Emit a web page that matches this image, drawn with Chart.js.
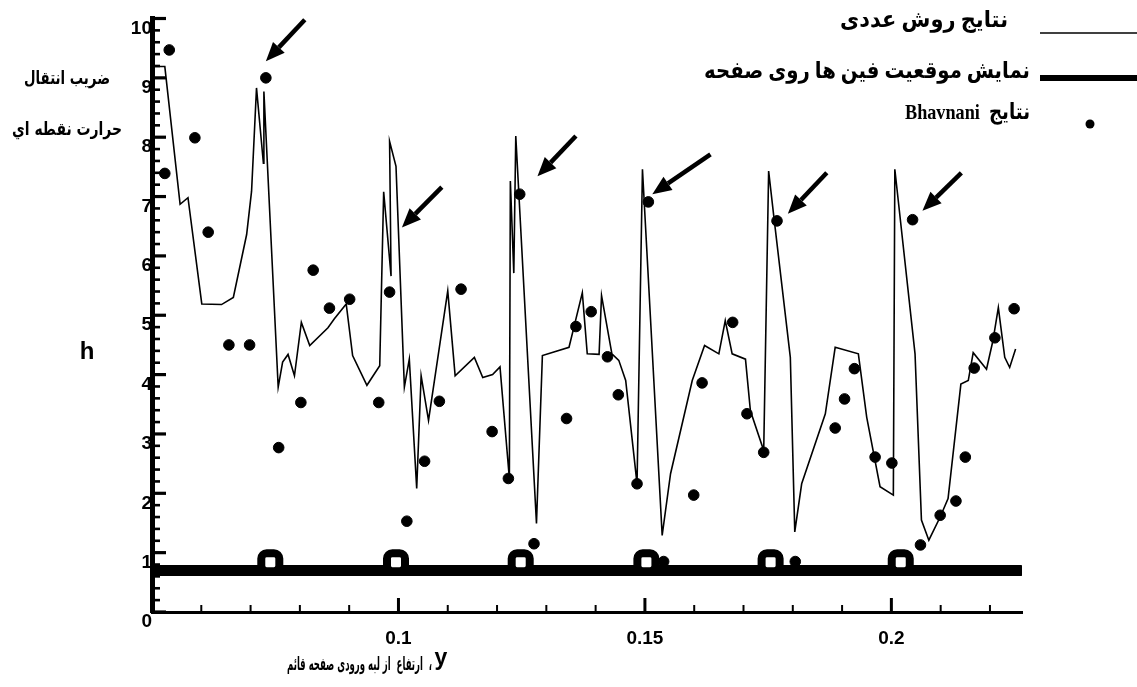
<!DOCTYPE html>
<html>
<head>
<meta charset="utf-8">
<script src="https://cdn.jsdelivr.net/npm/chart.js@4.4.1/dist/chart.umd.min.js"></script>
<style>
  html, body { margin: 0; padding: 0; background: #fff; }
  canvas { display: block; }
</style>
</head>
<body>
<canvas id="chart" width="1137" height="687"></canvas>
<script>
// numerical results (thin line)
const numX = [0.0503,0.0526,0.0557,0.0573,0.0601,0.0641,0.0665,0.0692,0.0702,0.0712,
  0.0726,0.0727,0.0756,0.0765,0.0776,0.0789,0.0803,0.0820,0.0857,0.0870,
  0.0894,0.0907,0.0936,0.0962,0.0970,0.0985,0.0982,0.0995,0.1012,0.1022,
  0.1037,0.1046,0.1061,0.1100,0.1115,0.1154,0.1171,0.1191,0.1206,0.1225,
  0.1227,0.1234,0.1238,0.1280,0.1292,0.1346,0.1356,0.1373,0.1383,0.1407,
  0.1412,0.1433,0.1447,0.1461,0.1484,0.1495,0.1535,0.1552,0.1596,0.1621,
  0.1650,0.1663,0.1677,0.1704,0.1714,0.1741,0.1751,0.1761,0.1795,0.1804,
  0.1818,0.1866,0.1886,0.1933,0.1950,0.1977,0.2004,0.2007,0.2048,0.2061,
  0.2076,0.2099,0.2115,0.2141,0.2156,0.2166,0.2193,0.2206,0.2217,0.2230,
  0.2240,0.2252];
const numH = [9.19,9.19,6.87,6.98,5.19,5.18,5.30,6.36,7.09,8.83,
  7.56,8.77,3.79,4.21,4.34,3.98,4.88,4.49,4.79,4.94,
  5.19,4.32,3.82,4.15,7.08,5.66,7.93,7.51,3.79,4.26,
  2.08,3.98,3.23,5.41,3.98,4.29,3.95,4.00,4.13,2.25,
  7.26,5.71,8.02,1.49,4.32,4.46,4.80,5.38,4.35,4.34,
  5.33,4.35,4.24,3.90,2.16,7.46,1.29,2.33,3.90,4.49,
  4.35,4.91,4.35,4.26,3.39,2.72,7.43,6.70,4.29,1.35,
  2.16,3.34,4.46,4.35,3.28,2.11,1.97,7.46,4.35,1.55,
  1.21,1.60,1.91,3.84,3.90,4.37,4.09,4.57,5.13,4.29,
  4.12,4.43];

// Bhavnani results (dots)
const bhavX = [0.0535,0.0526,0.0587,0.0614,0.0656,0.0698,0.0731,0.0757,0.0802,0.0827,
  0.0860,0.0901,0.0960,0.0982,0.1017,0.1053,0.1083,0.1127,0.1190,0.1223,
  0.1246,0.1275,0.1341,0.1360,0.1391,0.1424,0.1446,0.1484,0.1507,0.1538,
  0.1599,0.1616,0.1678,0.1707,0.1741,0.1768,0.1805,0.1886,0.1905,0.1925,
  0.1967,0.2001,0.2043,0.2059,0.2099,0.2131,0.2150,0.2168,0.2210,0.2249];
const bhavH = [9.47,7.39,7.99,6.40,4.50,4.50,9.00,2.77,3.53,5.76,
  5.12,5.27,3.53,5.39,1.53,2.54,3.55,5.44,3.04,2.25,
  7.04,1.15,3.26,4.81,5.06,4.30,3.66,2.16,6.91,0.85,
  1.97,3.86,4.88,3.34,2.69,6.59,0.85,3.10,3.59,4.10,
  2.61,2.51,6.61,1.13,1.63,1.87,2.61,4.11,4.62,5.11];

// fin positions on the plate
const finX = [0.0740,0.0995,0.1248,0.1503,0.1755,0.2019];
const finH = [0.84,0.84,0.84,0.84,0.84,0.84];
const plateX = [0.0500,0.2262];
const plateH = [0.70,0.70];

// arrows pointing at the peaks
const arrowTailX = [0.0810,0.1088,0.1360,0.1633,0.1869,0.2142];
const arrowTailH = [9.98,7.16,8.02,7.71,7.40,7.40];
const arrowHeadX = [0.0731,0.1007,0.1282,0.1515,0.1790,0.2063];
const arrowHeadH = [9.28,6.48,7.34,7.04,6.71,6.76];

const xTickValues = [0.1,0.15,0.2];
const yTickValues = [0,1,2,3,4,5,6,7,8,9,10];

const legendLabels = ["نتایج روش عددی", "نمایش موقعیت فین ها روی صفحه", "نتایج  Bhavnani"];
const yTitle = ["ضریب انتقال", "حرارت نقطه اي"];
const xTitle = "،  ارتفاع  از لبه ورودی صفحه قائم";

const pts = (xs, ys) => xs.map((v, i) => ({ x: v, y: ys[i] }));

function fitText(ctx, txt, xr, yc, w, font) {
  ctx.save();
  ctx.font = font;
  ctx.direction = "rtl";
  ctx.textAlign = "right";
  ctx.textBaseline = "middle";
  const m = ctx.measureText(txt).width;
  ctx.translate(xr, yc);
  ctx.scale(w / m, 1);
  ctx.fillText(txt, 0, 0);
  ctx.restore();
}

function arrow(ctx, x0, y0, x1, y1) {
  const ang = Math.atan2(y1 - y0, x1 - x0);
  const L = 19, W = 8;
  const bx = x1 - L * Math.cos(ang), by = y1 - L * Math.sin(ang);
  ctx.lineWidth = 4.5;
  ctx.beginPath(); ctx.moveTo(x0, y0); ctx.lineTo(bx, by); ctx.stroke();
  ctx.beginPath();
  ctx.moveTo(x1, y1);
  ctx.lineTo(bx + W * Math.sin(ang), by - W * Math.cos(ang));
  ctx.lineTo(bx - W * Math.sin(ang), by + W * Math.cos(ang));
  ctx.closePath(); ctx.fill();
}

const overlay = {
  id: "overlay",
  afterDraw(chart) {
    const { ctx, chartArea: a, scales: { x, y } } = chart;
    ctx.save();
    ctx.strokeStyle = "#000";
    ctx.fillStyle = "#000";

    // inward ticks on y
    for (let i = 0; i <= 50; i++) {
      const py = y.getPixelForValue(i * 0.2);
      const major = i % 5 === 0;
      ctx.lineWidth = major ? 3.2 : 2.6;
      ctx.beginPath(); ctx.moveTo(a.left, py); ctx.lineTo(a.left + (major ? 14 : 8), py); ctx.stroke();
    }
    // inward ticks on x
    for (let i = 6; i <= 22; i++) {
      const px = x.getPixelForValue(i / 100);
      const major = i === 10 || i === 15 || i === 20;
      ctx.lineWidth = major ? 3 : 2;
      ctx.beginPath(); ctx.moveTo(px, a.bottom); ctx.lineTo(px, a.bottom - (major ? 14 : 7)); ctx.stroke();
    }

    // arrows
    ctx.lineCap = "butt";
    arrowTailX.forEach((v, i) => {
      arrow(ctx, x.getPixelForValue(v), y.getPixelForValue(arrowTailH[i]),
        x.getPixelForValue(arrowHeadX[i]), y.getPixelForValue(arrowHeadH[i]));
    });

    // legend
    const fnt = 'bold 23px "Liberation Serif", "DejaVu Sans", serif';
    fitText(ctx, legendLabels[0], 1008, 21, 168, fnt);
    fitText(ctx, legendLabels[1], 1030, 72, 326, fnt);
    fitText(ctx, legendLabels[2], 1030, 113, 125, 'bold 22px "Liberation Serif", "DejaVu Sans", serif');
    ctx.lineWidth = 1.5;
    ctx.beginPath(); ctx.moveTo(1040, 33); ctx.lineTo(1137, 33); ctx.stroke();
    ctx.lineWidth = 6;
    ctx.beginPath(); ctx.moveTo(1040, 78); ctx.lineTo(1137, 78); ctx.stroke();
    ctx.beginPath(); ctx.arc(1090, 124, 4.5, 0, Math.PI * 2); ctx.fill();

    // axis titles
    const tf = 'bold 18px "DejaVu Sans", sans-serif';
    fitText(ctx, yTitle[0], 110, 79, 86, tf);
    fitText(ctx, yTitle[1], 122, 130, 110, tf);
    ctx.font = 'bold 24px "Liberation Sans", Arial, sans-serif';
    ctx.textAlign = "center"; ctx.textBaseline = "middle"; ctx.direction = "ltr";
    ctx.fillText("h", 87, 352);
    ctx.font = 'bold 23px "Liberation Sans", Arial, sans-serif';
    ctx.fillText("y", 441, 659);
    fitText(ctx, xTitle, 432, 665, 145, tf);
    ctx.restore();
  }
};

new Chart(document.getElementById("chart"), {
  type: "scatter",
  data: {
    datasets: [
      {
        label: legendLabels[0],
        data: pts(numX, numH),
        showLine: true,
        borderColor: "#000",
        borderWidth: 1.6,
        pointRadius: 0,
        tension: 0,
        order: 3
      },
      {
        label: legendLabels[2],
        data: pts(bhavX, bhavH),
        backgroundColor: "#000",
        borderColor: "#000",
        pointRadius: 5.3,
        order: 2
      },
      {
        label: legendLabels[1],
        data: pts(plateX, plateH),
        showLine: true,
        borderColor: "#000",
        borderWidth: 11,
        borderCapStyle: "round",
        pointRadius: 0,
        order: 1
      },
      {
        label: "fins",
        data: pts(finX, finH),
        pointStyle: "rectRounded",
        pointRadius: 10.5,
        backgroundColor: "#fff",
        borderColor: "#000",
        borderWidth: 8,
        order: 0
      }
    ]
  },
  options: {
    responsive: false,
    animation: false,
    layout: { padding: { top: 17, right: 115, bottom: 0, left: 0 } },
    plugins: { legend: { display: false }, tooltip: { enabled: false } },
    scales: {
      x: {
        type: "linear",
        min: 0.05,
        max: 0.2265,
        grid: { display: false, drawTicks: false },
        border: { display: true, color: "#000", width: 3 },
        afterBuildTicks: (s) => { s.ticks = xTickValues.map(v => ({ value: v })); },
        afterFit: (s) => { s.height = 75; },
        ticks: {
          color: "#000",
          padding: 15,
          maxRotation: 0,
          font: { family: '"Liberation Sans", Arial, sans-serif', size: 19, weight: "bold" },
          callback: (v) => String(v)
        }
      },
      y: {
        type: "linear",
        min: 0,
        max: 10,
        grid: { display: false, drawTicks: false },
        border: { display: true, color: "#000", width: 5 },
        afterBuildTicks: (s) => { s.ticks = yTickValues.map(v => ({ value: v })); },
        afterFit: (s) => { s.width = 152; },
        ticks: {
          color: "#000",
          padding: 0,
          labelOffset: 10,
          font: { family: '"Liberation Sans", Arial, sans-serif', size: 19, weight: "bold" },
          callback: (v) => String(v)
        }
      }
    }
  },
  plugins: [overlay]
});
</script>
</body>
</html>
